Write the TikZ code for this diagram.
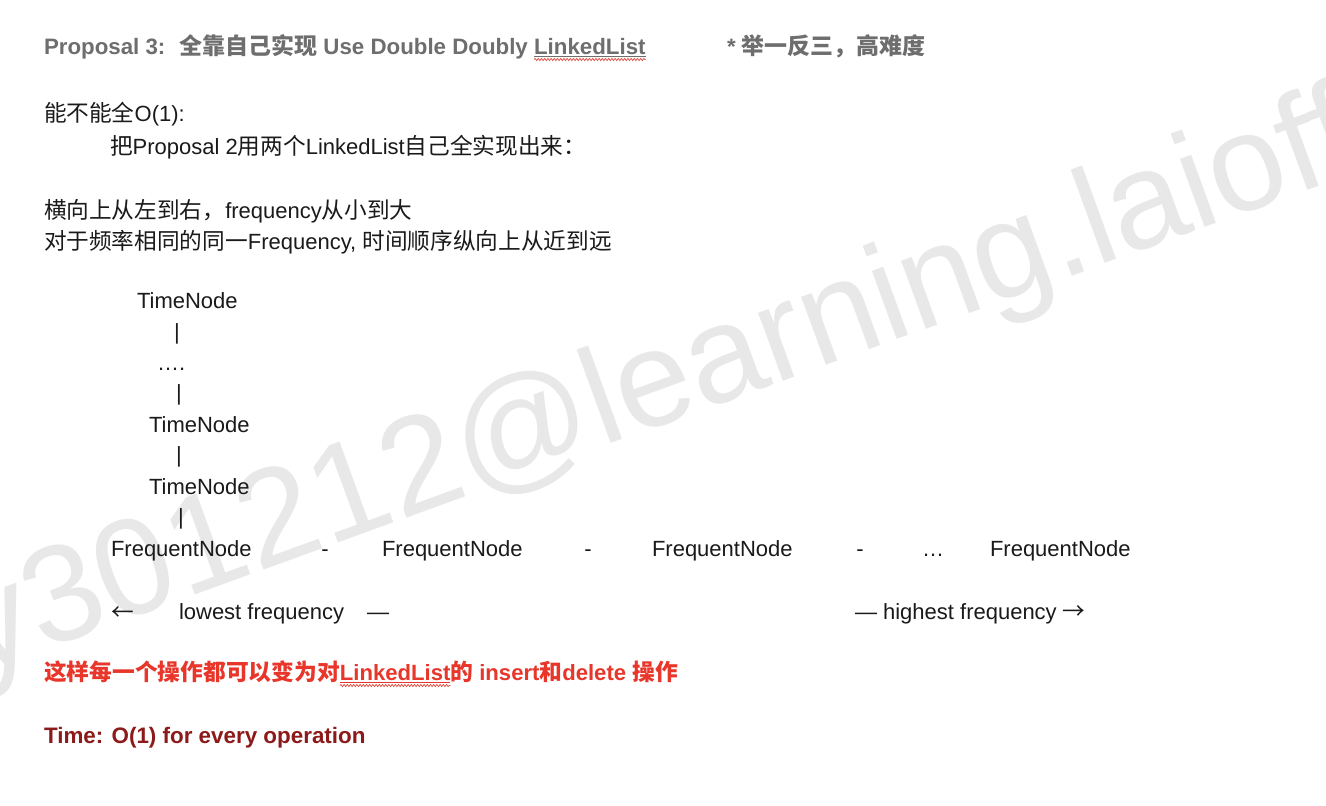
\documentclass[tikz,border=0pt]{standalone}
\usepackage{fontspec}
\setmainfont{Liberation Sans}
\newfontfamily\cjk[Scale=1.03]{Noto Sans CJK SC}
\usetikzlibrary{decorations.pathmorphing}
\definecolor{hdrgray}{HTML}{6E6E6E}
\definecolor{txt}{HTML}{1A1A1A}
\definecolor{redtxt}{HTML}{E8362B}
\definecolor{darkred}{HTML}{8C1A1A}
\definecolor{wmark}{HTML}{E8E8E8}
\definecolor{wavy}{HTML}{E0483E}
\begin{document}
\begin{tikzpicture}[x=1pt,y=-1pt,
  every node/.style={inner sep=0pt, outer sep=0pt},
  body/.style={anchor=base west, text=txt, font=\fontsize{22}{26}\selectfont},
  bar/.style={anchor=base, text=txt, font=\fontsize{22}{26}\selectfont},
  hdr/.style={anchor=base west, text=hdrgray, font=\fontsize{22.3}{26}\selectfont\bfseries},
  redline/.style={anchor=base west, text=redtxt, font=\fontsize{22.1}{26}\selectfont\bfseries},
  timeline/.style={anchor=base west, text=darkred, font=\fontsize{22.4}{26}\selectfont\bfseries},
  squiggle/.style={draw=wavy, line width=0.7pt, decorate, decoration={snake, amplitude=1.1pt, segment length=3.2pt}}
]
\fill[white] (0,0) rectangle (1326,806);
\useasboundingbox (0,0) rectangle (1326,806);

% watermark
\begin{scope}
\clip (0,0) rectangle (1326,806);
\node[anchor=base west, rotate=20, text=wmark, font=\fontsize{137}{150}\selectfont] (wm) at (-22,674) {y301212@learning.laioffer};
\end{scope}

% header
\node[hdr] (h1) at (44,54) {Proposal 3:\hspace{14pt}{\cjk 全靠自己实现} Use Double Doubly};
\node[hdr] (h2) at ([xshift=6.2pt]h1.base east) {LinkedList};
\draw[hdrgray, line width=0.8pt] ([yshift=-2.5pt]h2.base west) -- ([yshift=-2.5pt]h2.base east);
\draw[squiggle] ([yshift=-5.5pt]h2.base west) -- ([yshift=-5.5pt]h2.base east);
\node[hdr] (h3) at (727,54) {* {\cjk 举一反三，高难度}};

% body text
\node[body] (l1) at (44,121) {{\cjk 能不能全}O(1):};
\node[body] (l2) at (110,154) {{\cjk 把}Proposal 2{\cjk 用两个}LinkedList{\cjk 自己全实现出来：}};
\node[body] (l3) at (44,218) {{\cjk 横向上从左到右，}frequency{\cjk 从小到大}};
\node[body] (l4) at (44,249) {{\cjk 对于频率相同的同一}Frequency, {\cjk 时间顺序纵向上从近到远}};

% time nodes
\node[body] (t1) at (137,308) {TimeNode};
\node[bar] (b1) at (177,339) {|};
\node[body] (dots) at (157,370) {….};
\node[bar] (b2) at (179,400) {|};
\node[body] (t2) at (149,432) {TimeNode};
\node[bar] (b3) at (179,462) {|};
\node[body] (t3) at (149,494) {TimeNode};
\node[bar] (b4) at (181,524) {|};

% frequent nodes
\node[body] (f1) at (111,556) {FrequentNode};
\node[bar] (d1) at (325,556) {-};
\node[body] (f2) at (382,556) {FrequentNode};
\node[bar] (d2) at (588,556) {-};
\node[body] (f3) at (652,556) {FrequentNode};
\node[bar] (d3) at (860,556) {-};
\node[bar] (el) at (933,556) {…};
\node[body] (f4) at (990,556) {FrequentNode};

% direction labels
\node[body] (la) at (111,620) {\cjk ←};
\node[body] (lo) at (179,619) {lowest frequency};
\node[body] (ld) at (367,619) {—};
\node[body] (hi) at (855,619) {— highest frequency {\cjk →}};

% red remark
\node[redline] (r1) at (44,680) {\cjk 这样每一个操作都可以变为对};
\node[redline] (r2) at (r1.base east) {LinkedList};
\node[redline] (r3) at (r2.base east) {{\cjk 的} insert{\cjk 和}delete {\cjk 操作}};
\draw[redtxt, line width=0.8pt] ([yshift=-2.5pt]r2.base west) -- ([yshift=-2.5pt]r2.base east);
\draw[squiggle] ([yshift=-5.5pt]r2.base west) -- ([yshift=-5.5pt]r2.base east);

\node[timeline] (tm) at (44,743) {Time: O(1) for every operation};
\end{tikzpicture}
\end{document}
